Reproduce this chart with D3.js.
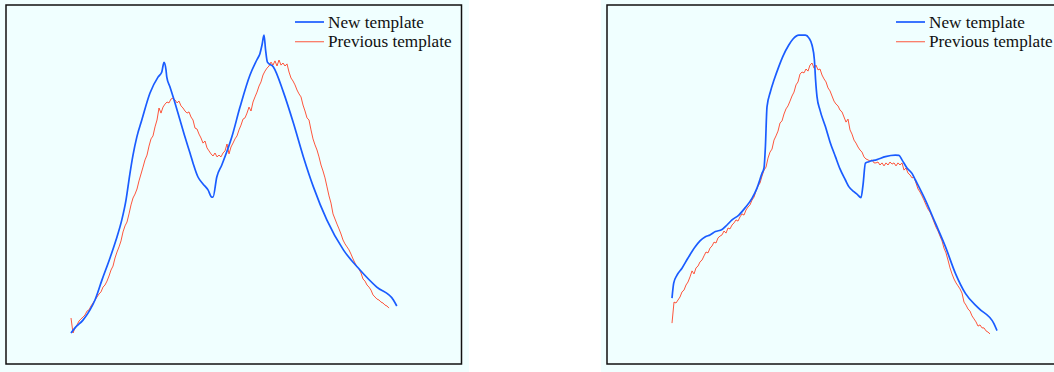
<!DOCTYPE html>
<html>
<head>
<meta charset="utf-8">
<script src="https://cdn.jsdelivr.net/npm/d3@7"></script>
<style>
  html, body { margin: 0; padding: 0; background: #fff; }
  svg { display: block; }
</style>
</head>
<body>
<svg id="chart" width="1054" height="372"></svg>
<script>
// amplitude in arbitrary units, x in samples
const seriesNames = ['New template', 'Previous template'];

// panel 1 — new template, [sample, amplitude]
const newTemplateA = [
  [0, 0], [2, 1.7], [6, 4.3], [9.5, 7.7], [12, 11], [15.5, 17.7], [19.5, 25], [22.5, 31],
  [25.4, 37.7], [27.5, 44.3], [29.5, 53.3], [31, 59.3], [32.9, 65.3], [35.4, 71], [39.5, 80],
  [43.5, 85.3], [45.4, 87], [46, 89], [46.5, 90.2], [47.5, 87.7], [47.9, 85.3], [49.5, 82],
  [52, 76.7], [54.5, 71], [57, 65.3], [59.5, 60], [61, 56.7], [63.5, 52], [66, 49.7],
  [68.5, 47.7], [70.4, 45.3], [71, 45.3], [72.9, 52], [75.4, 56], [80.4, 65.3], [84.5, 75.3],
  [89.5, 86], [92.9, 91], [94.5, 93.2], [95.5, 96], [96.5, 99.3], [97.3, 94.3], [98.2, 90.3],
  [101.2, 88.7], [106.2, 80.3], [111.2, 70], [116.2, 58.7], [121.2, 48.7], [127.9, 37.7],
  [136.2, 27.7], [144.5, 21], [152.9, 15.3], [161.2, 11], [162.9, 9]
];

// panel 1 — previous template, one value per sample
const prevTemplateA = [
  5, 0, 1.7, 2.7, 4, 4.7, 5.3, 6, 7.3, 7.7, 9, 10, 11, 12, 13, 13.7, 15.3, 16, 17.3, 19,
  21, 22.3, 25, 27, 28.7, 30.7, 33.7, 35.7, 37, 39.7, 42.7, 45, 46.3, 48, 50.7, 53, 55.3, 57.7, 59.3, 62.3,
  64.7, 65.7, 68.7, 71, 75, 73.3, 75.3, 76.3, 77, 76.7, 78, 78.3, 77.7, 76.7, 77.3, 75.7, 75, 74, 73.3, 73.7,
  72, 71, 68.3, 68, 66.3, 65, 63.3, 64, 61.7, 60.7, 59.7, 59, 60, 58.7, 59.3, 58.7, 60, 60.7, 63, 59.7,
  62, 63.3, 64.7, 65.7, 67.7, 69.3, 71.3, 71.7, 73.3, 75.3, 74, 77, 78.7, 80.3, 82.3, 83.7, 86, 87.3, 88.3, 89,
  90.3, 89.3, 90.7, 89, 91, 89.3, 90, 89, 89.7, 87, 85, 84, 82.7, 81, 79.7, 78.7, 76, 74, 71.7, 71,
  67.7, 64.7, 62.7, 61, 58.7, 56, 54, 51.7, 48.7, 45.7, 43.3, 39.7, 38, 36.3, 34.7, 33, 31, 29.7, 28.7, 27.7,
  26.3, 24.7, 23.3, 22, 21.3, 20, 18, 17.3, 16, 15.3, 14.3, 12.7, 12, 11.3, 11, 10.3, 10, 9.3, 9, 8.3
];

// panel 2 — new template, [sample, amplitude]
const newTemplateB = [
  [0, 11.6], [0.85, 16.6], [2.5, 19.3], [5, 21.6], [8, 25], [11.7, 28.8], [14, 30.7], [16.7, 32.1],
  [19, 32.7], [21.7, 33.8], [25, 34.5], [27.5, 36], [30, 37.7], [33.4, 39.3], [36.5, 41.7], [40, 44.9],
  [42.5, 48.3], [45, 53.2], [46, 55], [46.7, 62.1], [47.5, 75.4], [49.2, 80.4], [51, 84.3], [53.4, 88.8],
  [55.5, 92.3], [58.4, 96], [60.5, 98], [63.4, 99.3], [66.7, 99.3], [68.5, 98.3], [70, 96], [71.2, 91],
  [71.8, 84.3], [72.5, 78.8], [74, 74.3], [76.7, 68.8], [79, 63.7], [81.7, 58.8], [84, 54.7], [86.7, 51],
  [88.5, 48.7], [90.9, 47.1], [92.5, 46.3], [94.5, 45.1], [95.5, 49.3], [96.7, 56.6], [98.4, 57.1],
  [102.5, 57.8], [106.7, 58.8], [111.7, 59.3], [113.5, 59.2], [115, 57.7], [117.5, 55], [120, 53.2],
  [121.7, 51], [126.7, 44.3], [131.7, 36.6], [136.7, 28.8], [141.7, 19.9], [146.7, 13.2], [153.4, 8.2],
  [160.9, 3.2], [162.5, 0.8]
];

// panel 2 — previous template, one value per sample
const prevTemplateB = [
  3.3, 10.3, 10, 11, 12, 13.7, 14.3, 16, 17, 18.7, 20.7, 19.7, 21.7, 22.3, 23.7, 24.3, 25.7, 27, 26.7, 28.3,
  29, 30.3, 30, 31.7, 32.3, 32.7, 34, 33.3, 35, 34.7, 36, 36.7, 37.7, 37.3, 38.7, 39.7, 39.3, 41, 42, 42.7,
  44.3, 45.3, 47.3, 49, 50, 52.3, 54.3, 55.3, 58.3, 60.3, 61.3, 64.3, 65.7, 67.3, 70, 70.7, 73, 74.7, 75.7, 77.3,
  79, 80.3, 82.7, 83.7, 86.3, 87, 86.7, 88, 87.3, 89.3, 90, 88.3, 89.3, 87.7, 88, 86, 84.7, 83.7, 81.7, 80.7,
  79, 77.3, 76.3, 75.7, 74.3, 73.7, 72, 70.3, 71.3, 67.7, 66.3, 64.3, 63.3, 62, 61, 60.3, 58.7, 58, 57.7, 57.3,
  57.7, 56.7, 56.7, 57, 56, 56.7, 55.7, 56.7, 56, 57, 56.3, 56.7, 55.7, 56.7, 56, 56.7, 54.3, 55, 53.3, 52.7,
  51.7, 52, 50, 48, 47, 45.7, 44.3, 42.7, 41.3, 40.3, 38.7, 37, 35.3, 34, 32.3, 30.7, 28.3, 26.7, 24.3, 21.7,
  19.7, 18, 16.7, 15.7, 14.7, 13.3, 10.3, 9.3, 8, 7.3, 5.7, 4.7, 3.7, 2.3, 2.7, 1.7, 1.7, 0.7, 0.3, -0.3
];

const panels = [
  { left: 0, width: 469, newT: newTemplateA, prevT: prevTemplateA },
  { left: 601, width: 453, newT: newTemplateB, prevT: prevTemplateB },
];

const colors = { newT: '#1a5cff', prevT: '#ff4226' };
const boxW = 455.5;
const boxH = 359;

const svg = d3.select('#chart');

// shared scales, relative to the framed box
const x = d3.scaleLinear().domain([0, 163]).range([65, 391]);
const y = d3.scaleLinear().domain([0, 100]).range([328, 28]);

const lineNew = d3.line()
  .x((d) => x(d[0]))
  .y((d) => y(d[1]))
  .curve(d3.curveMonotoneX);
const linePrev = d3.line().x((d, i) => x(i)).y((d) => y(d));

panels.forEach((p) => {
  const fig = svg.append('g').attr('transform', `translate(${p.left},0)`);

  fig.append('rect')
    .attr('width', p.width)
    .attr('height', 372)
    .attr('fill', '#f0ffff');

  const box = fig.append('g').attr('transform', 'translate(6,5)');

  box.append('rect')
    .attr('width', boxW)
    .attr('height', boxH)
    .attr('fill', '#f0ffff')
    .attr('stroke', '#111')
    .attr('stroke-width', 1.5);

  box.append('path')
    .datum(p.prevT)
    .attr('d', linePrev)
    .attr('fill', 'none')
    .attr('stroke', colors.prevT)
    .attr('stroke-width', 0.9);

  box.append('path')
    .datum(p.newT)
    .attr('d', lineNew)
    .attr('fill', 'none')
    .attr('stroke', colors.newT)
    .attr('stroke-width', 1.7)
    .attr('stroke-linejoin', 'round');

  // legend
  const legend = box.append('g').attr('transform', 'translate(289,17)');
  seriesNames.forEach((name, i) => {
    const row = legend.append('g').attr('transform', `translate(0,${i * 19.7})`);
    row.append('line')
      .attr('x1', 0).attr('x2', 29)
      .attr('stroke', i === 0 ? colors.newT : colors.prevT)
      .attr('stroke-width', i === 0 ? 1.7 : 1.2)
      .attr('stroke-opacity', i === 0 ? 1 : 0.75);
    row.append('text')
      .attr('x', 33)
      .attr('y', 5.5)
      .attr('font-family', '"Liberation Serif", "Times New Roman", serif')
      .attr('font-size', 17.2)
      .attr('fill', '#111')
      .text(name);
  });
});
</script>
</body>
</html>
